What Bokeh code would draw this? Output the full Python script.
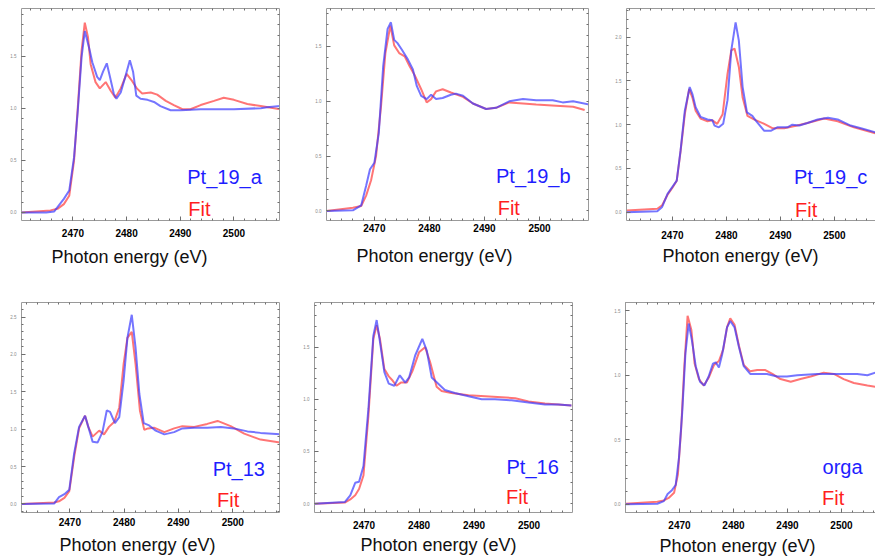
import numpy as np
from bokeh.plotting import figure
from bokeh.layouts import row, column
from bokeh.models import Range1d, FixedTicker, LinearAxis, Label, Title, PrintfTickFormatter
from bokeh.embed import file_html
from bokeh.resources import INLINE

# ---------------- data ----------------
# Pt_19_a
e_pt19a_exp = [2460.4, 2465.0, 2466.5, 2467.4, 2468.3, 2469.3, 2470.2, 2470.9, 2471.6, 2472.2, 2473.0, 2473.6,
               2474.5, 2475.0, 2475.6, 2476.3, 2476.9, 2477.6, 2478.1, 2478.9, 2479.8, 2480.6, 2481.2, 2481.8,
               2482.6, 2483.9, 2485.1, 2486.3, 2488.2, 2490.1, 2493.8, 2500.0, 2505.0, 2506.2, 2508.6]
mu_pt19a_exp = [0.0, 0.0, 0.01, 0.07, 0.13, 0.21, 0.53, 0.98, 1.49, 1.74, 1.58, 1.44,
                1.30, 1.27, 1.35, 1.43, 1.30, 1.14, 1.09, 1.15, 1.31, 1.46, 1.35, 1.12,
                1.09, 1.08, 1.06, 1.02, 0.98, 0.98, 0.99, 0.99, 1.00, 1.01, 1.02]
e_pt19a_fit = [2460.4, 2465.8, 2467.1, 2468.3, 2469.3, 2470.2, 2470.9, 2471.6, 2472.2, 2472.8, 2473.3, 2474.2,
               2475.0, 2476.1, 2477.0, 2477.9, 2478.9, 2480.0, 2480.9, 2481.9, 2482.9, 2484.5, 2485.7, 2487.3,
               2488.8, 2490.4, 2491.9, 2493.8, 2496.3, 2498.1, 2500.0, 2502.5, 2505.0, 2508.6]
mu_pt19a_fit = [0.0, 0.02, 0.035, 0.08, 0.16, 0.50, 1.01, 1.55, 1.82, 1.68, 1.42, 1.25,
                1.19, 1.25, 1.17, 1.10, 1.19, 1.33, 1.27, 1.19, 1.14, 1.15, 1.13, 1.07,
                1.03, 0.99, 0.99, 1.03, 1.07, 1.10, 1.08, 1.04, 1.02, 0.99]

# Pt_19_b
e_pt19b_exp = [2461.3, 2466.1, 2467.6, 2468.5, 2469.2, 2470.0, 2470.8, 2471.6, 2472.4, 2473.0, 2473.6, 2474.2,
               2475.0, 2476.1, 2477.0, 2477.7, 2478.5, 2479.5, 2480.3, 2481.2, 2482.4, 2483.9, 2484.8, 2486.1,
               2487.9, 2490.3, 2492.1, 2494.5, 2497.0, 2499.4, 2502.4, 2504.2, 2506.1, 2509.1]
mu_pt19b_exp = [0.0, 0.006, 0.05, 0.23, 0.38, 0.44, 0.71, 1.32, 1.66, 1.72, 1.56, 1.53,
                1.47, 1.38, 1.29, 1.14, 1.05, 1.02, 1.06, 1.02, 1.03, 1.06, 1.07, 1.05,
                0.98, 0.93, 0.94, 1.00, 1.02, 1.01, 1.01, 0.99, 1.00, 0.97]
e_pt19b_fit = [2461.3, 2466.1, 2467.6, 2468.5, 2469.4, 2470.3, 2471.2, 2472.0, 2472.9, 2473.6, 2474.5, 2475.5,
               2476.4, 2477.3, 2478.5, 2479.5, 2480.3, 2481.2, 2482.4, 2483.9, 2486.1, 2487.9, 2490.3, 2492.1,
               2494.5, 2497.0, 2499.4, 2503.0, 2506.1, 2508.2]
mu_pt19b_fit = [0.0, 0.03, 0.045, 0.14, 0.28, 0.50, 0.95, 1.44, 1.69, 1.51, 1.44, 1.41,
                1.32, 1.24, 1.11, 0.99, 1.02, 1.09, 1.11, 1.08, 1.04, 0.98, 0.93, 0.94,
                0.99, 0.98, 0.97, 0.96, 0.95, 0.92]

# Pt_19_c
e_pt19c_exp = [2461.5, 2467.2, 2468.1, 2469.1, 2470.0, 2470.8, 2471.5, 2472.3, 2473.2, 2473.7, 2474.3, 2475.2,
               2476.5, 2477.4, 2477.8, 2478.6, 2479.4, 2480.2, 2480.9, 2481.7, 2482.3, 2483.0, 2483.8, 2484.8,
               2485.4, 2487.0, 2488.2, 2489.4, 2491.3, 2492.2, 2493.5, 2495.0, 2496.9, 2498.8, 2500.6, 2503.0,
               2505.4, 2507.7]
mu_pt19c_exp = [0.0, 0.01, 0.06, 0.21, 0.29, 0.36, 0.70, 1.16, 1.43, 1.35, 1.20, 1.09,
                1.06, 1.05, 0.99, 0.97, 1.01, 1.28, 1.85, 2.17, 1.96, 1.43, 1.14, 1.10,
                1.05, 0.93, 0.93, 0.97, 0.97, 1.00, 0.99, 1.02, 1.06, 1.08, 1.06, 0.99,
                0.95, 0.91]
e_pt19c_fit = [2461.5, 2467.2, 2468.1, 2469.1, 2470.0, 2470.8, 2471.5, 2472.3, 2473.1, 2473.7, 2474.3, 2475.2,
               2476.5, 2477.4, 2478.3, 2479.3, 2480.2, 2480.9, 2481.5, 2482.3, 2483.0, 2483.9, 2485.1, 2487.0,
               2488.5, 2490.7, 2493.1, 2495.0, 2498.1, 2500.6, 2503.6, 2507.7]
mu_pt19c_fit = [0.02, 0.04, 0.08, 0.20, 0.28, 0.36, 0.69, 1.12, 1.41, 1.31, 1.16, 1.07,
                1.04, 1.05, 1.01, 1.12, 1.58, 1.85, 1.87, 1.66, 1.31, 1.10, 1.06, 1.01,
                0.96, 0.96, 0.99, 1.02, 1.07, 1.04, 0.97, 0.90]

# Pt_13
e_pt13_exp = [2461.1, 2467.1, 2468.0, 2469.0, 2469.9, 2470.8, 2471.7, 2472.8, 2473.4, 2474.2, 2475.1, 2476.0,
              2476.8, 2477.4, 2478.3, 2479.1, 2479.9, 2480.6, 2481.4, 2482.1, 2482.8, 2483.6, 2484.6, 2485.8,
              2487.4, 2489.2, 2490.7, 2492.9, 2495.3, 2497.8, 2500.2, 2502.7, 2505.1, 2508.7]
mu_pt13_exp = [0.0, 0.005, 0.09, 0.13, 0.19, 0.68, 1.03, 1.18, 1.03, 0.83, 0.82, 0.96,
               1.25, 1.23, 1.08, 1.16, 1.65, 2.22, 2.53, 2.09, 1.47, 1.08, 1.05, 0.98,
               0.93, 0.96, 1.01, 1.02, 1.02, 1.03, 1.01, 0.97, 0.95, 0.93]
e_pt13_fit = [2461.1, 2467.1, 2468.0, 2469.0, 2469.9, 2470.8, 2471.7, 2472.8, 2473.4, 2474.2, 2475.4, 2476.3,
              2477.2, 2478.2, 2479.1, 2479.9, 2480.6, 2481.4, 2482.1, 2482.9, 2483.7, 2484.4, 2485.5, 2487.4,
              2489.2, 2490.7, 2492.9, 2495.3, 2497.2, 2499.6, 2502.1, 2505.1, 2508.7]
mu_pt13_fit = [0.0, 0.02, 0.035, 0.08, 0.17, 0.63, 1.01, 1.18, 1.03, 0.90, 0.98, 0.93,
               1.03, 1.10, 1.29, 1.87, 2.22, 2.30, 1.87, 1.25, 0.99, 1.01, 1.02, 0.96,
               1.01, 1.04, 1.03, 1.07, 1.11, 1.04, 0.94, 0.86, 0.82]

# Pt_16
e_pt16_exp = [2461.0, 2466.5, 2467.5, 2468.4, 2469.1, 2469.9, 2470.8, 2471.7, 2472.3, 2472.9, 2473.7, 2474.5,
              2475.5, 2476.5, 2477.5, 2478.2, 2479.3, 2480.6, 2481.4, 2482.3, 2483.5, 2484.7, 2486.5, 2489.0,
              2491.4, 2493.8, 2496.8, 2499.9, 2502.9, 2505.3, 2507.7]
mu_pt16_exp = [0.0, 0.015, 0.08, 0.20, 0.21, 0.36, 0.91, 1.61, 1.76, 1.55, 1.26, 1.15,
               1.13, 1.23, 1.16, 1.21, 1.42, 1.58, 1.47, 1.21, 1.15, 1.09, 1.06, 1.03,
               1.00, 1.00, 0.99, 0.97, 0.95, 0.95, 0.94]
e_pt16_fit = [2461.0, 2466.5, 2467.5, 2468.4, 2469.1, 2469.9, 2470.8, 2471.7, 2472.3, 2472.9, 2473.7, 2474.5,
              2475.2, 2475.9, 2476.7, 2477.8, 2478.8, 2480.0, 2481.1, 2482.0, 2483.2, 2484.1, 2485.9, 2489.0,
              2492.0, 2495.0, 2497.5, 2499.9, 2502.9, 2507.7]
mu_pt16_fit = [0.0, 0.01, 0.04, 0.08, 0.14, 0.27, 0.84, 1.58, 1.71, 1.58, 1.29, 1.22,
               1.18, 1.13, 1.16, 1.16, 1.27, 1.45, 1.50, 1.36, 1.12, 1.08, 1.06, 1.04,
               1.03, 1.02, 1.01, 0.98, 0.96, 0.94]

# orga
e_orga_exp = [2460.0, 2465.9, 2467.1, 2467.8, 2468.6, 2469.3, 2469.9, 2470.5, 2471.1, 2471.7, 2472.3, 2473.0,
              2473.8, 2474.6, 2475.4, 2476.2, 2476.7, 2477.3, 2477.9, 2478.8, 2479.4, 2480.2, 2481.0, 2481.9,
              2483.1, 2484.4, 2486.2, 2488.1, 2489.9, 2491.8, 2495.5, 2499.2, 2502.9, 2504.8, 2506.3]
mu_orga_exp = [0.0, 0.005, 0.025, 0.08, 0.11, 0.15, 0.36, 0.71, 1.17, 1.40, 1.27, 1.07,
               0.95, 0.92, 0.99, 1.09, 1.10, 1.06, 1.16, 1.37, 1.42, 1.37, 1.22, 1.07,
               1.01, 1.01, 1.01, 0.99, 0.99, 1.00, 1.01, 1.01, 1.01, 1.00, 1.02]
e_orga_fit = [2460.0, 2465.9, 2467.1, 2468.0, 2469.0, 2469.7, 2470.3, 2470.9, 2471.5, 2472.2, 2472.8, 2473.6,
              2474.5, 2475.4, 2476.4, 2477.3, 2478.1, 2478.8, 2479.4, 2480.2, 2481.0, 2481.9, 2483.1, 2484.4,
              2485.9, 2487.2, 2488.7, 2490.6, 2492.4, 2494.3, 2496.7, 2498.6, 2500.4, 2502.3, 2504.8, 2506.3]
mu_orga_fit = [0.005, 0.02, 0.03, 0.05, 0.09, 0.23, 0.58, 1.07, 1.46, 1.35, 1.09, 0.97,
               0.92, 0.98, 1.08, 1.11, 1.20, 1.37, 1.44, 1.39, 1.23, 1.08, 1.03, 1.04,
               1.04, 1.01, 0.97, 0.95, 0.97, 0.99, 1.02, 1.01, 0.97, 0.94, 0.92, 0.91]

x_major_ticks = [2470, 2480, 2490, 2500]
x_title = "Photon energy (eV)"
fit_text = "Fit"

# ---------------- styling helpers ----------------
FRAME = "#9a9a9a"
TICK = "#6e6e6e"
BLUE_LINE = "#3a3aff"
RED_LINE = "#ff3a3a"
BLUE_TXT = "#1e1eff"
RED_TXT = "#ff1e1e"
FONT = "Liberation Sans"

x_minor = list(np.arange(2456, 2514, 2.0))
y_minor = list(np.round(np.arange(-0.2, 3.0, 0.1), 2))


def base_axis(ax):
    ax.axis_line_color = FRAME
    ax.axis_line_width = 1
    ax.major_tick_line_color = TICK
    ax.minor_tick_line_color = TICK
    ax.major_tick_in = 4
    ax.major_tick_out = 0
    ax.minor_tick_in = 2
    ax.minor_tick_out = 0


def make_panel(w, h, borders, xr, yr, yticks, e_exp, mu_exp, e_fit, mu_fit,
               name, name_xy, fit_xy, x_standoff, t_offset, t_standoff, right_axis=True):
    p = figure(width=w, height=h, x_range=Range1d(*xr), y_range=Range1d(*yr),
               output_backend="svg", toolbar_location=None, title=None,
               min_border_left=borders[0], min_border_right=borders[1],
               min_border_top=borders[2], min_border_bottom=borders[3])
    p.outline_line_color = None
    p.xgrid.visible = False
    p.ygrid.visible = False
    p.background_fill_color = "white"
    p.border_fill_color = "white"

    xa = p.xaxis[0]
    base_axis(xa)
    xa.ticker = FixedTicker(ticks=x_major_ticks, minor_ticks=x_minor)
    xa.major_label_standoff = x_standoff
    xa.major_label_text_font = FONT
    xa.major_label_text_font_size = "10px"
    xa.major_label_text_font_style = "bold"
    xa.major_label_text_color = "#000000"

    ya = p.yaxis[0]
    base_axis(ya)
    ya.ticker = FixedTicker(ticks=yticks, minor_ticks=y_minor)
    ya.formatter = PrintfTickFormatter(format="%.1f")
    ya.major_label_standoff = 5
    ya.major_label_text_font = FONT
    ya.major_label_text_font_size = "4.5px"
    ya.major_label_text_color = "#8a8a8a"

    top = LinearAxis()
    base_axis(top)
    top.ticker = FixedTicker(ticks=[], minor_ticks=x_minor)
    top.major_label_standoff = 0
    p.add_layout(top, "above")
    if right_axis:
        rgt = LinearAxis()
        base_axis(rgt)
        rgt.ticker = FixedTicker(ticks=[], minor_ticks=y_minor)
        rgt.major_label_standoff = 0
        p.add_layout(rgt, "right")

    p.line(e_fit, mu_fit, line_color=RED_LINE, line_alpha=0.7, line_width=2)
    p.line(e_exp, mu_exp, line_color=BLUE_LINE, line_alpha=0.7, line_width=2)

    p.add_layout(Label(x=name_xy[0], y=name_xy[1], y_offset=6, text=name, text_font=FONT,
                       text_font_size="20px", text_color=BLUE_TXT,
                       text_baseline="alphabetic", text_align="left"))
    p.add_layout(Label(x=fit_xy[0], y=fit_xy[1], y_offset=6, text=fit_text, text_font=FONT,
                       text_font_size="20px", text_color=RED_TXT,
                       text_baseline="alphabetic", text_align="left"))
    p.add_layout(Title(text=x_title, align="left", offset=t_offset, standoff=t_standoff,
                       text_font=FONT, text_font_size="18px", text_font_style="normal",
                       text_color="#111111"), "below")
    return p


p1 = make_panel(295, 280, (21, 16, 8, 60), (2460.4, 2508.5), (-0.077, 1.956), [0, 0.5, 1.0, 1.5],
                e_pt19a_exp, mu_pt19a_exp, e_pt19a_fit, mu_pt19a_fit,
                "Pt_19_a", (2491.3, 0.281), (2491.5, -0.029), 8, 30, 11)
p2 = make_panel(295, 280, (31, 2, 8, 58), (2461.3, 2508.9), (-0.087, 1.846), [0, 0.5, 1.0, 1.5],
                e_pt19b_exp, mu_pt19b_exp, e_pt19b_fit, mu_pt19b_fit,
                "Pt_19_b", (2492.1, 0.268), (2492.4, -0.024), 3, 30, 18)
p3 = make_panel(285, 280, (36, 0, 8, 60), (2461.5, 2507.6), (-0.095, 2.328), [0, 0.5, 1.0, 1.5, 2.0],
                e_pt19c_exp, mu_pt19c_exp, e_pt19c_fit, mu_pt19c_fit,
                "Pt_19_c", (2492.5, 0.331), (2492.7, -0.038), 10, 36, 4, right_axis=False)
p4 = make_panel(295, 279, (21, 16, 21, 46), (2461.1, 2508.6), (-0.115, 2.694), [0, 0.5, 1.0, 1.5, 2.0, 2.5],
                e_pt13_exp, mu_pt13_exp, e_pt13_fit, mu_pt13_fit,
                "Pt_13", (2496.3, 0.389), (2497.1, -0.022), 5, 38, 9)
p5 = make_panel(295, 279, (19, 18, 15, 44), (2461.0, 2507.9), (-0.085, 1.928), [0, 0.5, 1.0, 1.5],
                e_pt16_exp, mu_pt16_exp, e_pt16_fit, mu_pt16_fit,
                "Pt_16", (2495.9, 0.29), (2495.8, 0.006), 8, 46, 2)
p6 = make_panel(285, 279, (35, 0, 22, 44), (2460.0, 2506.3), (-0.063, 1.563), [0, 0.5, 1.0, 1.5],
                e_orga_exp, mu_orga_exp, e_orga_fit, mu_orga_fit,
                "orga", (2496.5, 0.242), (2496.4, 0.0), 8, 34, 4, right_axis=False)

layout = column(row(p1, p2, p3, spacing=0), row(p4, p5, p6, spacing=0), spacing=0)

with open("out.html", "w") as f:
    f.write(file_html(layout, INLINE))
